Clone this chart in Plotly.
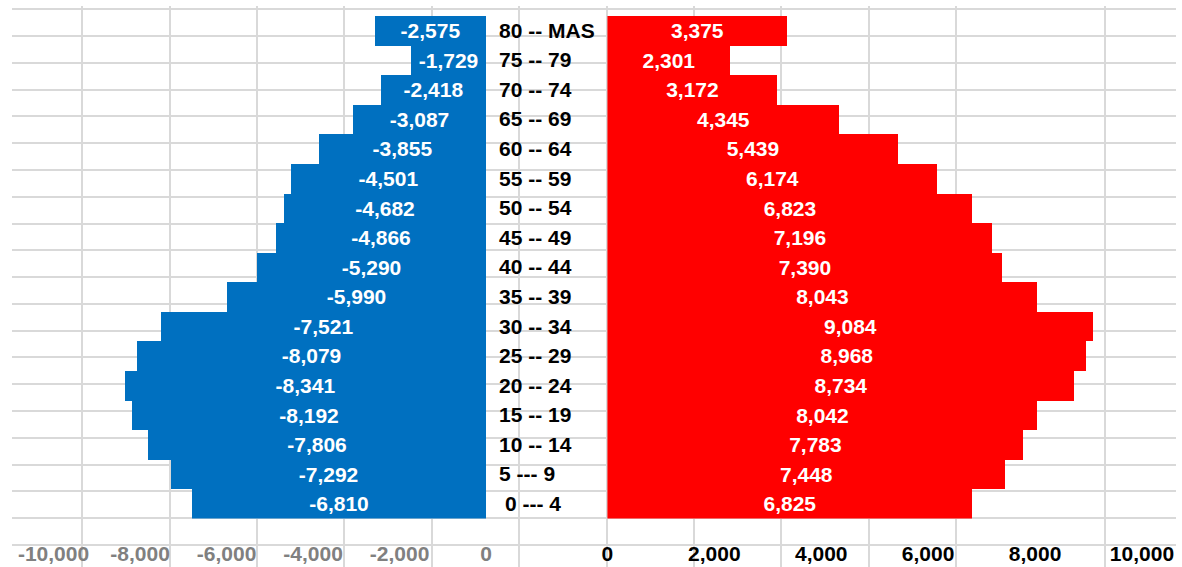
import plotly.graph_objects as go

# Data (top to bottom in the picture)
age_groups = ["80 -- MAS", "75 -- 79", "70 -- 74", "65 -- 69", "60 -- 64", "55 -- 59",
              "50 -- 54", "45 -- 49", "40 -- 44", "35 -- 39", "30 -- 34", "25 -- 29",
              "20 -- 24", "15 -- 19", "10 -- 14", "5 --- 9", "\u00a00 --- 4"]
men = [-2575, -1729, -2418, -3087, -3855, -4501, -4682, -4866, -5290, -5990,
       -7521, -8079, -8341, -8192, -7806, -7292, -6810]
women = [3375, 2301, 3172, 4345, 5439, 6174, 6823, 7196, 7390, 8043,
         9084, 8968, 8734, 8042, 7783, 7448, 6825]
left_ticks = [-10000, -8000, -6000, -4000, -2000, 0]
left_ticktext = ["-10,000", "-8,000", "-6,000", "-4,000", "-2,000", "0"]
right_ticks = [0, 2000, 4000, 6000, 8000, 10000]
right_ticktext = ["0", "2,000", "4,000", "6,000", "8,000", "10,000"]

W, H = 1182, 567
FONT = "Liberation Sans, Arial, sans-serif"
FS = 21

# reverse so that first item is at the top
cats = age_groups[::-1]
men_r = men[::-1]
women_r = women[::-1]

# decorative grid (pixel-space axes)
grid_x = [77 + 88.3 * k for k in range(11)] + [1110]
grid_y = [9.3 + 26.78 * k for k in range(21)]

fig = go.Figure()

# grid subplot (xy) - invisible trace
fig.add_trace(go.Scatter(x=[None], y=[None], xaxis="x", yaxis="y",
                         showlegend=False, hoverinfo="skip"))

fig.add_trace(go.Bar(
    y=cats, x=men_r, orientation="h", xaxis="x2", yaxis="y2",
    marker=dict(color="#0070C0", line=dict(width=0)),
    text=[f"{v:,}" for v in men_r], textposition="inside",
    insidetextanchor="middle", textangle=0,
    textfont=dict(family=FONT, size=FS, color="white", weight="bold"),
    showlegend=False, hoverinfo="skip"))

fig.add_trace(go.Bar(
    y=cats, x=women_r, orientation="h", xaxis="x3", yaxis="y3",
    marker=dict(color="#FF0000", line=dict(width=0)),
    text=[f"{v:,}" for v in women_r], textposition="inside",
    insidetextanchor="middle", textangle=0,
    textfont=dict(family=FONT, size=FS, color="white", weight="bold"),
    showlegend=False, hoverinfo="skip"))

left_zero_px = 485.0
left_scale = 0.0437      # px per unit
right_zero_px = 607.6
right_scale = 0.0540

y_dom = [(H - 518.5) / H, (H - 15.5) / H]

fig.update_layout(
    width=W, height=H,
    margin=dict(l=0, r=0, t=0, b=0),
    paper_bgcolor="white",
    plot_bgcolor="rgba(0,0,0,0)",
    bargap=0,
    font=dict(family=FONT),
    xaxis=dict(domain=[6 / W, 1], range=[6, W], tickvals=grid_x,
               showticklabels=False, showgrid=True, gridcolor="#d9d9d9",
               gridwidth=2, zeroline=False, showline=False, ticks=""),
    yaxis=dict(domain=[0, (H - 6) / H], range=[H, 6], tickvals=grid_y,
               showticklabels=False, showgrid=True, gridcolor="#d9d9d9",
               gridwidth=2, zeroline=False, showline=False, ticks=""),
    xaxis2=dict(domain=[0, left_zero_px / W],
                range=[-left_zero_px / left_scale, 0],
                tickvals=left_ticks, ticktext=left_ticktext,
                tickfont=dict(family=FONT, size=FS, color="#808080", weight="bold"),
                showgrid=False, zeroline=False, showline=False, ticks="",
                ticklabelstandoff=20, anchor="y2"),
    yaxis2=dict(domain=y_dom, range=[-0.5, len(cats) - 0.5], type="category",
                side="right", anchor="x2",
                tickfont=dict(family=FONT, size=FS, color="black", weight="bold"),
                showgrid=False, zeroline=False, showline=False, ticks="",
                ticklabelstandoff=12),
    xaxis3=dict(domain=[right_zero_px / W, 1],
                range=[0, (W - right_zero_px) / right_scale],
                tickvals=right_ticks, ticktext=right_ticktext,
                tickfont=dict(family=FONT, size=FS, color="black", weight="bold"),
                showgrid=False, zeroline=False, showline=False, ticks="",
                ticklabelstandoff=20, anchor="y3"),
    yaxis3=dict(domain=y_dom, range=[-0.5, len(cats) - 0.5], type="category",
                anchor="x3", showticklabels=False,
                showgrid=False, zeroline=False, showline=False, ticks=""),
)

fig.write_html("out.html", config={"displayModeBar": False},
               post_script="document.body.style.margin='0';")
